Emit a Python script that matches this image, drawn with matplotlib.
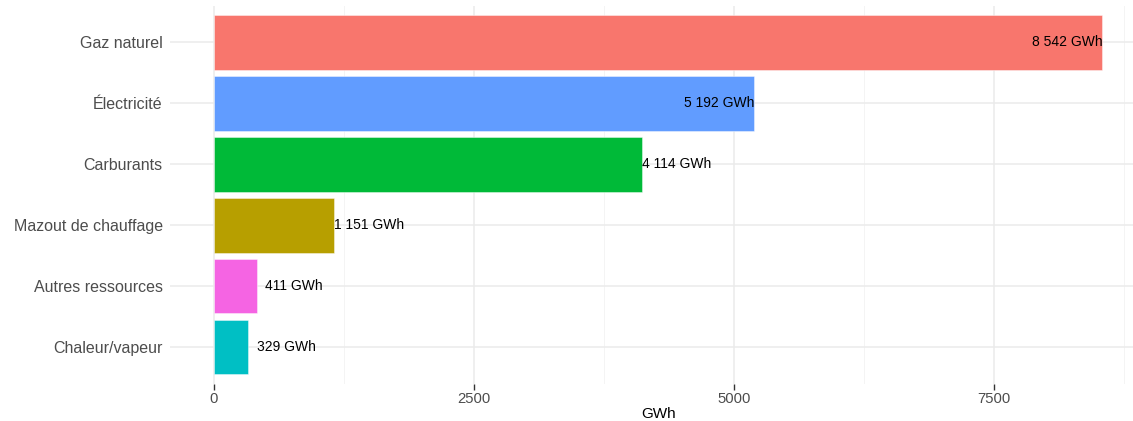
import matplotlib.pyplot as plt

plt.rcParams['font.family'] = ['Liberation Sans', 'DejaVu Sans']

categories = ['Chaleur/vapeur', 'Autres ressources', 'Mazout de chauffage',
              'Carburants', 'Électricité', 'Gaz naturel']
values = [329, 411, 1151, 4114, 5192, 8542]
labels = ['329 GWh', '411 GWh', '1 151 GWh', '4 114 GWh', '5 192 GWh', '8 542 GWh']
colors = ['#00BFC4', '#F564E3', '#B79F00', '#00BA38', '#619CFF', '#F8766D']

fig = plt.figure(figsize=(11.33, 4.21), dpi=100)
ax = fig.add_axes([0.1497, 0.0888, 0.8625, 0.898])

y = range(len(categories))
ax.barh(y, values, height=0.9, color=colors, edgecolor=(1, 1, 1, 0.5),
        linewidth=0.6, zorder=2)

for i, (v, lab) in enumerate(zip(values, labels)):
    if v > 5000:
        ax.annotate(lab, (v, i), ha='right', va='center', fontsize=10,
                    color='black', zorder=3)
    elif v > 1000:
        ax.annotate(lab, (v, i), ha='left', va='center', fontsize=10,
                    color='black', zorder=3)
    else:
        ax.annotate(lab, (v, i), xytext=(6, 0), textcoords='offset points',
                    ha='left', va='center', fontsize=10, color='black', zorder=3)

ax.set_xlim(-427, 8969)
ax.set_ylim(-0.6, 5.6)
ax.set_yticks(list(y))
ax.set_yticklabels(categories, fontsize=11.5, color='#4d4d4d')
ax.set_xticks([0, 2500, 5000, 7500])
ax.set_xticks([1250, 3750, 6250, 8750], minor=True)
ax.tick_params(axis='x', labelsize=10.7, labelcolor='#4d4d4d', length=4,
               width=1, color='#333333', pad=2)
ax.tick_params(axis='x', which='minor', length=0)
ax.tick_params(axis='y', length=0, pad=5)

ax.grid(True, which='major', color='#ebebeb', linewidth=1.1, zorder=0)
ax.grid(True, which='minor', axis='x', color='#f2f2f2', linewidth=0.6, zorder=0)
ax.set_axisbelow(True)
for s in ax.spines.values():
    s.set_visible(False)

ax.set_xlabel('GWh', fontsize=11, color='black', labelpad=1)

fig.savefig('out.png', dpi=100)
